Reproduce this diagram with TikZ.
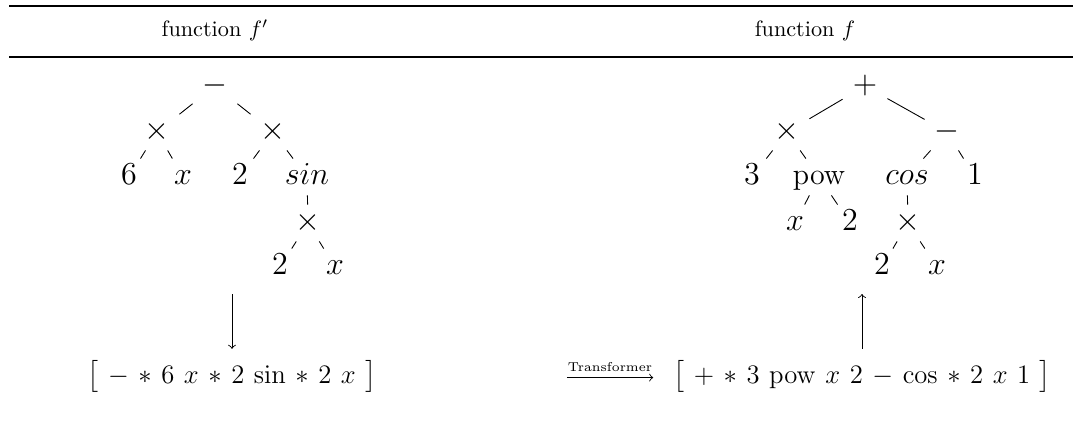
\documentclass[tikz,border=0pt]{standalone}
\usepackage{amsmath}
\usepackage{tikz}
\newcommand{\tsep}{\hspace{4.3pt}}
\newcommand{\tfont}{\fontsize{13.5pt}{16pt}\selectfont}
\newcommand{\sfont}{\fontsize{12.5pt}{15pt}\selectfont}

\begin{document}
\begin{tikzpicture}[x=0.45pt,y=-0.45pt,
  tn/.style={font=\tfont,inner sep=0pt,minimum width=19.8pt,minimum height=16.2pt,
    text height=10pt,text depth=3pt},
  seq/.style={font=\sfont,anchor=base,inner sep=3pt}]
  \useasboundingbox (0,0) rectangle (1073,432);
  \draw[line width=0.8pt] (9,6) -- (1073,6);
  \draw[line width=0.5pt] (9,57) -- (1073,57);
  \node[anchor=base] (hleft)  at (215,37) {function $f'$};
  \node[anchor=base] (hright) at (805,37) {function $f$};

  \node[tn] (lroot) at (215,86)  {$-$};
  \node[tn] (lml)   at (157,132) {$\times$};
  \node[tn] (lmr)   at (273,132) {$\times$};
  \node[tn] (l6)    at (129,177) {$6$};
  \node[tn] (lx)    at (183,177) {$x$};
  \node[tn] (l2)    at (240,177) {$2$};
  \node[tn] (lsin)  at (307,177) {$sin$};
  \node[tn] (lsub)  at (308,223) {$\times$};
  \node[tn] (lsub2) at (280,267) {$2$};
  \node[tn] (lsubx) at (335,267) {$x$};
  \draw (lroot) -- (lml) (lroot) -- (lmr);
  \draw (lml) -- (l6) (lml) -- (lx) (lmr) -- (l2) (lmr) -- (lsin);
  \draw (lsin) -- (lsub) (lsub) -- (lsub2) (lsub) -- (lsubx);

  \node[tn] (rroot)  at (865,86)  {$+$};
  \node[tn] (rmul)   at (787,132) {$\times$};
  \node[tn] (rminus) at (947,132) {$-$};
  \node[tn] (r3)     at (752,177) {$3$};
  \node[tn] (rpow)   at (819,177) {pow};
  \node[tn] (rcos)   at (907,177) {$cos$};
  \node[tn] (r1)     at (975,177) {$1$};
  \node[tn] (rpx)    at (795,223) {$x$};
  \node[tn] (rp2)    at (850,223) {$2$};
  \node[tn] (rsub)   at (908,223) {$\times$};
  \node[tn] (rsub2)  at (882,267) {$2$};
  \node[tn] (rsubx)  at (937,267) {$x$};
  \draw (rroot) -- (rmul) (rroot) -- (rminus);
  \draw (rmul) -- (r3) (rmul) -- (rpow) (rminus) -- (rcos) (rminus) -- (r1);
  \draw (rpow) -- (rpx) (rpow) -- (rp2);
  \draw (rcos) -- (rsub) (rsub) -- (rsub2) (rsub) -- (rsubx);

  \node[seq] (lseq) at (232,383)
    {$\big[\tsep{-}\tsep{*}\tsep 6\tsep x\tsep{*}\tsep 2\tsep{\sin}\tsep{*}\tsep 2\tsep x\tsep\big]$};
  \node[seq] (rseq) at (862,383)
    {$\big[\tsep{+}\tsep{*}\tsep 3\tsep\mathrm{pow}\tsep x\tsep 2\tsep{-}\tsep{\cos}\tsep{*}\tsep 2\tsep x\tsep 1\tsep\big]$};
  \node[font=\fontsize{5.8pt}{6pt}\selectfont,anchor=base,inner xsep=0.3pt,inner ysep=2.7pt]
    (xfm) at (610,371) {Transformer};
  \draw[->] (xfm.south west) -- (xfm.south east);

  \coordinate (ltop) at (232,294);
  \coordinate (rtop) at (862,294);
  \draw[->,shorten >=2pt] (ltop) -- (lseq);
  \draw[->,shorten <=2pt] (rseq) -- (rtop);
\end{tikzpicture}
\end{document}
